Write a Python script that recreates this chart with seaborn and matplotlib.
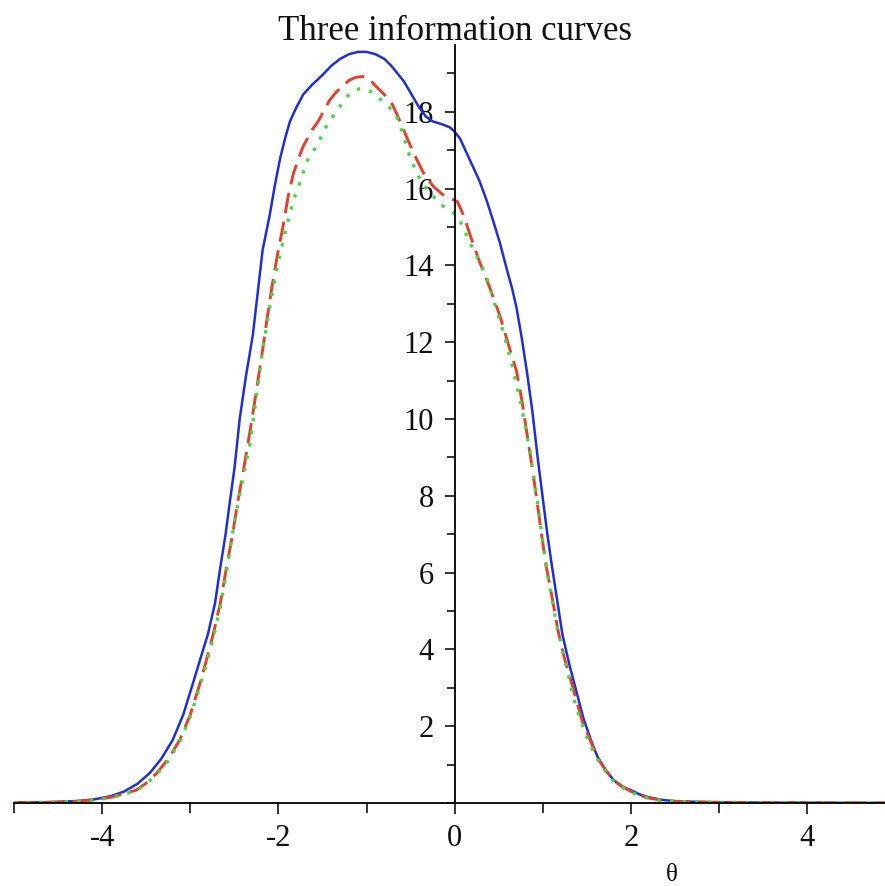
import matplotlib
matplotlib.use("Agg")
import matplotlib.pyplot as plt
import matplotlib.ticker as ticker
import seaborn as sns

# Values
blue_x = [-5.0, -4.6, -4.3, -4.1, -3.9, -3.75, -3.6, -3.46, -3.33, -3.2, -3.08,
          -2.97, -2.88, -2.8, -2.72, -2.66, -2.6, -2.55, -2.5, -2.44, -2.37, -2.29,
          -2.23, -2.18, -2.1, -2.04, -1.98, -1.92, -1.87, -1.8, -1.72, -1.62, -1.5,
          -1.4, -1.3, -1.2, -1.1, -1.0, -0.9, -0.8, -0.72, -0.65, -0.58, -0.52,
          -0.46, -0.4, -0.33, -0.25, -0.15, -0.06, 0.0, 0.06, 0.12, 0.2, 0.28,
          0.36, 0.43, 0.51, 0.59, 0.65, 0.7, 0.76, 0.82, 0.88, 0.94, 1.0, 1.05,
          1.1, 1.16, 1.22, 1.3, 1.38, 1.46, 1.55, 1.62, 1.7, 1.8, 1.9, 2.0, 2.1,
          2.2, 2.35, 2.5, 2.9, 3.5, 5.0]
blue_y = [0.01, 0.02, 0.05, 0.09, 0.18, 0.3, 0.5, 0.78, 1.15, 1.64, 2.3,
          3.12, 3.8, 4.4, 5.2, 6.13, 7.0, 7.87, 8.7, 10.0, 11.1, 12.2,
          13.4, 14.4, 15.3, 16.1, 16.8, 17.35, 17.75, 18.1, 18.45, 18.7, 18.96,
          19.2, 19.38, 19.5, 19.56, 19.56, 19.5, 19.38, 19.2, 19.0, 18.8, 18.57,
          18.33, 18.1, 17.88, 17.75, 17.68, 17.6, 17.48, 17.3, 17.0, 16.6, 16.2,
          15.7, 15.2, 14.6, 13.9, 13.4, 12.9, 12.1, 11.2, 10.2, 9.0, 7.9, 7.0,
          6.2, 5.3, 4.4, 3.6, 2.9, 2.2, 1.6, 1.2, 0.9, 0.6, 0.43, 0.33, 0.22,
          0.15, 0.08, 0.05, 0.02, 0.01, 0.0]

red_x = [-5.0, -4.6, -4.3, -4.1, -3.9, -3.75, -3.61, -3.5, -3.38, -3.25, -3.12,
         -3.0, -2.89, -2.82, -2.74, -2.66, -2.59, -2.52, -2.46, -2.41, -2.36, -2.3,
         -2.24, -2.18, -2.13, -2.07, -2.01, -1.95, -1.89, -1.83, -1.77, -1.72,
         -1.66, -1.61, -1.55, -1.48, -1.42, -1.35, -1.28, -1.2, -1.12, -1.04,
         -0.97, -0.9, -0.8, -0.71, -0.62, -0.52, -0.43, -0.33, -0.24, -0.14,
         -0.05, 0.03, 0.1, 0.18, 0.28, 0.4, 0.51, 0.6, 0.7, 0.76, 0.82, 0.88,
         0.93, 0.99, 1.04, 1.11, 1.17, 1.24, 1.34, 1.45, 1.56, 1.64, 1.72, 1.82,
         1.92, 2.0, 2.1, 2.2, 2.35, 2.5, 2.9, 3.5, 5.0]
red_y = [0.01, 0.02, 0.04, 0.08, 0.15, 0.24, 0.34, 0.52, 0.78, 1.15, 1.64,
         2.3, 3.12, 3.7, 4.4, 5.2, 6.13, 7.0, 7.87, 8.5, 9.17, 10.0,
         10.9, 11.8, 12.6, 13.5, 14.3, 15.0, 15.8, 16.4, 16.8, 17.1,
         17.35, 17.56, 17.75, 18.05, 18.3, 18.5, 18.65, 18.82, 18.9, 18.92,
         18.85, 18.68, 18.45, 18.2, 17.75, 17.2, 16.75, 16.3, 16.05, 15.85,
         15.75, 15.66, 15.3, 14.75, 14.1, 13.4, 12.7, 12.0, 11.25, 10.5, 9.6, 8.7,
         7.9, 6.9, 6.13, 5.27, 4.5, 3.8, 3.0, 2.1, 1.5, 1.1, 0.82, 0.55,
         0.4, 0.3, 0.2, 0.13, 0.07, 0.04, 0.02, 0.01, 0.0]

green_x = [-5.0, -4.6, -4.3, -4.1, -3.9, -3.75, -3.6, -3.5, -3.38, -3.25, -3.12,
           -3.0, -2.89, -2.82, -2.74, -2.66, -2.59, -2.53, -2.46, -2.39, -2.32,
           -2.25, -2.18, -2.1, -2.02, -1.95, -1.9, -1.83, -1.75, -1.68, -1.61,
           -1.55, -1.45, -1.33, -1.22, -1.14, -1.08, -1.02, -0.95, -0.88, -0.78,
           -0.67, -0.6, -0.52, -0.44, -0.36, -0.26, -0.17, -0.07, 0.03, 0.1, 0.17,
           0.27, 0.36, 0.42, 0.48, 0.57, 0.66, 0.75, 0.85, 0.94, 1.04, 1.15, 1.27,
           1.34, 1.42, 1.5, 1.56, 1.64, 1.72, 1.82, 1.92, 2.0, 2.1, 2.2, 2.35,
           2.5, 2.9, 3.5, 5.0]
green_y = [0.01, 0.02, 0.04, 0.07, 0.14, 0.23, 0.33, 0.5, 0.75, 1.1, 1.6,
           2.25, 3.05, 3.6, 4.3, 5.1, 6.0, 6.9, 7.8, 8.6, 9.4,
           10.6, 11.8, 12.9, 13.9, 14.6, 15.1, 15.7, 16.2, 16.7, 16.95,
           17.2, 17.65, 18.05, 18.4, 18.55, 18.6, 18.6, 18.52, 18.4, 18.2,
           17.95, 17.5, 16.9, 16.45, 16.1, 15.85, 15.6, 15.45, 15.3, 14.95, 14.6,
           14.15, 13.7, 13.25, 12.8, 12.1, 11.3, 10.4, 9.2, 7.8, 6.1, 4.7, 3.5,
           2.8, 2.2, 1.7, 1.4, 1.05, 0.8, 0.52, 0.38, 0.28, 0.19, 0.12, 0.06,
           0.04, 0.02, 0.01, 0.0]

x_major = [-4, -2, 0, 2, 4]
y_major = [2, 4, 6, 8, 10, 12, 14, 16, 18]

sns.set_theme(style="white")
plt.rcParams["font.family"] = ["Liberation Serif", "DejaVu Serif"]
plt.rcParams["axes.unicode_minus"] = False

fig = plt.figure(figsize=(8.85, 8.86), dpi=100)
ax = fig.add_axes([14 / 885, 83 / 886, 871 / 885, 758 / 886])

sns.lineplot(x=blue_x, y=blue_y, sort=False, estimator=None, ax=ax,
             color="#1f2fd8", linewidth=1.8)
sns.lineplot(x=red_x, y=red_y, sort=False, estimator=None, ax=ax,
             color="#e5402c", linewidth=2.1, linestyle=(0, (7, 3)))
sns.lineplot(x=green_x, y=green_y, sort=False, estimator=None, ax=ax,
             color="#3fdc3f", linewidth=2.4, linestyle=(0, (1, 2.8)))

ax.set_xlim(-5, 4.88)
ax.set_ylim(0, 19.74)

# axes crossing at the origin
for s in ["top", "right"]:
    ax.spines[s].set_visible(False)
ax.spines["left"].set_position(("data", 0))
ax.spines["bottom"].set_position(("data", 0))
for s in ["left", "bottom"]:
    ax.spines[s].set_color("black")
    ax.spines[s].set_linewidth(1.3)

ax.xaxis.set_major_locator(ticker.FixedLocator(x_major))
ax.xaxis.set_minor_locator(ticker.MultipleLocator(1))
ax.yaxis.set_major_locator(ticker.FixedLocator(y_major))
ax.yaxis.set_minor_locator(ticker.MultipleLocator(1))
ax.tick_params(axis="both", which="both", direction="out", color="black",
               bottom=True, left=True, width=1.1, labelsize=22,
               labelcolor="#111111")
ax.tick_params(axis="x", which="major", length=8, pad=7)
ax.tick_params(axis="x", which="minor", length=7)
ax.tick_params(axis="y", which="major", length=7, pad=8)
ax.tick_params(axis="y", which="minor", length=6)
ax.set_xlabel("")
ax.set_ylabel("")
ax.grid(False)

fig.text(455 / 885, 1 - 31 / 886, "Three information curves", ha="center",
         va="center", fontsize=25, color="#111111")
fig.text(672 / 885, 1 - 875 / 886, "θ", ha="center", va="center",
         fontsize=18, color="#111111")

fig.savefig("out.png", dpi=100)
